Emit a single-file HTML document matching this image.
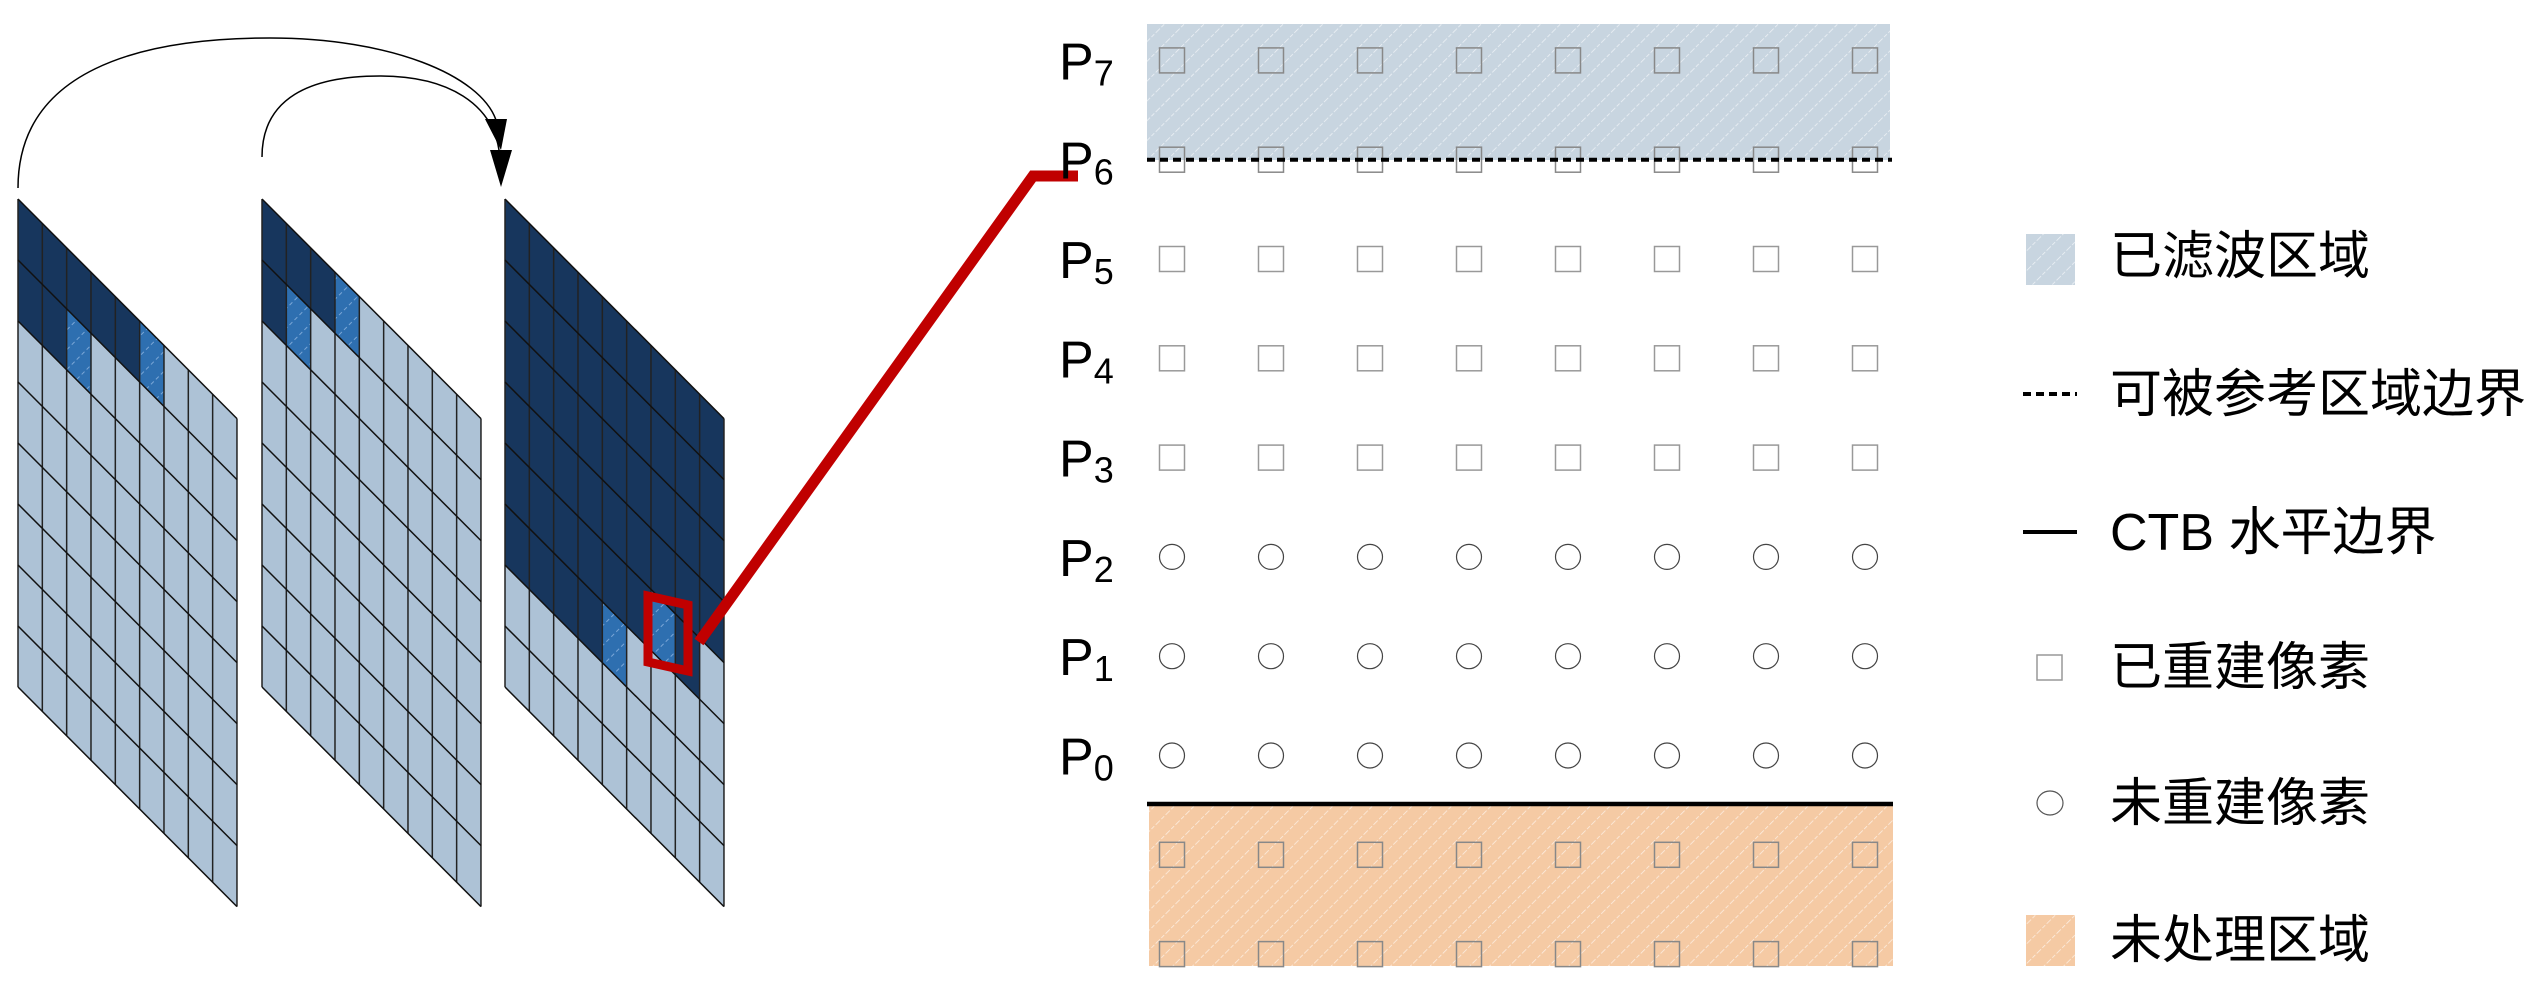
<!DOCTYPE html>
<html><head><meta charset="utf-8"><style>
html,body{margin:0;padding:0;background:#fff;}
svg{display:block;}
text{font-family:"Liberation Sans","Noto Sans CJK SC",sans-serif;fill:#000;}
</style></head><body>
<svg id="fig" width="2538" height="983" viewBox="0 0 2538 983" xmlns="http://www.w3.org/2000/svg">
<defs>
<pattern id="hatchB" patternUnits="userSpaceOnUse" width="14" height="14" patternTransform="rotate(45)">
<rect width="14" height="14" fill="#c8d5e0"/><line x1="0" y1="0" x2="0" y2="14" stroke="#fff" stroke-width="1.5" stroke-dasharray="4 2" opacity="0.7"/></pattern>
<pattern id="hatchO" patternUnits="userSpaceOnUse" width="14" height="14" patternTransform="rotate(45)">
<rect width="14" height="14" fill="#f5caa4"/><line x1="0" y1="0" x2="0" y2="14" stroke="#fff" stroke-width="1.5" stroke-dasharray="4 2" opacity="0.7"/></pattern>
<pattern id="hatchM" patternUnits="userSpaceOnUse" width="14" height="14" patternTransform="rotate(45)">
<rect width="14" height="14" fill="#2e6fb0"/><line x1="0" y1="0" x2="0" y2="14" stroke="#7aa6d6" stroke-width="2" stroke-dasharray="4 3"/></pattern>
</defs>
<g id="grids"></g>
<g>
<path d="M18,188 C18,70 140,38 270,38 C390,38 480,75 496,120" fill="none" stroke="#000" stroke-width="1.5"/>
<polygon points="485,119 507,119 501,150" fill="#000"/>
<path d="M262,157 C262,98 310,76 380,76 C450,76 492,105 499,150" fill="none" stroke="#000" stroke-width="1.5"/>
<polygon points="490,150 512,150 501,187" fill="#000"/>
</g>
<g>
<polygon points="648,596 688,605 688,671 648,662" fill="none" stroke="#c00000" stroke-width="9"/>
<polyline points="699,642 1033,176 1078,176" fill="none" stroke="#c00000" stroke-width="11"/>
</g>
<g id="pixgrid">
<rect x="1147" y="24" width="743" height="136" fill="url(#hatchB)"/>
<rect x="1149" y="804" width="744" height="162" fill="url(#hatchO)"/>
</g>
<g id="legend">
<g><rect x="2026" y="234" width="49" height="51" fill="url(#hatchB)"/><text x="2110" y="274" font-size="52">已滤波区域</text></g>
<g><line x1="2023" y1="394" x2="2077" y2="394" stroke="#000" stroke-width="4" stroke-dasharray="8 5"/><text x="2110" y="412" font-size="52">可被参考区域边界</text></g>
<g><line x1="2023" y1="532" x2="2077" y2="532" stroke="#000" stroke-width="4"/><text x="2110" y="550" font-size="52">CTB 水平边界</text></g>
<g><rect x="2037" y="655" width="25" height="25" fill="none" stroke="#999" stroke-width="1.5"/><text x="2110" y="685" font-size="52">已重建像素</text></g>
<g><ellipse cx="2050" cy="803" rx="13" ry="12" fill="none" stroke="#555" stroke-width="1.2"/><text x="2110" y="821" font-size="52">未重建像素</text></g>
<g><rect x="2026" y="915" width="49" height="51" fill="url(#hatchO)"/><text x="2110" y="958" font-size="52">未处理区域</text></g>
</g>
</svg>
<script>
const NS='http://www.w3.org/2000/svg';
// left frames data
const frameNames=['frame-1','frame-2','frame-3'];
const darkRows1=[2,2,1,1,1,0,0,0,0];
const darkRows2=[2,1,1,0,0,0,0,0,0];
const darkRows3=[6,6,6,6,5,5,4,5,4];
const mediumCells1=[[2,1],[5,0]];
const mediumCells2=[[1,1],[3,0]];
const mediumCells3=[[4,5],[6,4]];
// right pixel grid data
const rowLabels=['0','1','2','3','4','5','6','7'];
const rowTypes=['circle','circle','circle','square','square','square','square','square'];
const extraRows=[-1,-2];
const colCount=8;

function mk(tag,attrs,parent){const e=document.createElementNS(NS,tag);for(const k in attrs)e.setAttribute(k,attrs[k]);parent.appendChild(e);return e;}

const frameX=[18,262,505], gTop=199, colW=24.33, dY=24.4, rowH=61, nCols=9, nRows=8;
const darks=[darkRows1,darkRows2,darkRows3], meds=[mediumCells1,mediumCells2,mediumCells3];
const G=document.getElementById('grids');
function pt(x0,c,r){return [x0+c*colW, gTop+c*dY+r*rowH];}
function quad(x0,c,r,h){const a=pt(x0,c,r),b=pt(x0,c+1,r),d=pt(x0,c+1,r+h),e=pt(x0,c,r+h);return [a,b,d,e].map(p=>p.join(',')).join(' ');}
for(let f=0;f<3;f++){
  const g=mk('g',{},G);
  
  
  const x0=frameX[f];
  for(let c=0;c<nCols;c++){
    const cell=mk('polygon',{points:quad(x0,c,0,nRows),fill:'#adc2d6'},g);
    
    
    if(darks[f][c]>0){
      const d=mk('polygon',{points:quad(x0,c,0,darks[f][c]),fill:'#17365d'},g);
      
      
    }
  }
  meds[f].forEach(m=>{
    const d=mk('polygon',{points:quad(x0,m[0],m[1],1),fill:'url(#hatchM)'},g);
    
    
  });
  for(let c=0;c<=nCols;c++){const a=pt(x0,c,0),b=pt(x0,c,nRows);mk('line',{x1:a[0],y1:a[1],x2:b[0],y2:b[1],stroke:'#222','stroke-width':1.5},g);}
  for(let r=0;r<=nRows;r++){const a=pt(x0,0,r),b=pt(x0,nCols,r);mk('line',{x1:a[0],y1:a[1],x2:b[0],y2:b[1],stroke:'#111','stroke-width':1.5},g);}
}
// pixel grid
const P=document.getElementById('pixgrid');
const colX=c=>1172+c*99;
const rowY=r=>755.5-r*99.3;
function marker(type,cx,cy,shaded,parent){
  let e;
  if(type==='circle') e=mk('circle',{cx:cx,cy:cy,r:12.5,fill:'none',stroke:'#444','stroke-width':1.2},parent);
  else e=mk('rect',{x:cx-12.5,y:cy-12.5,width:25,height:25,fill:'none',stroke:shaded?'#888':'#999','stroke-width':1.5},parent);
  
  
}
rowLabels.forEach((lab,r)=>{
  const y=rowY(r);
  const t=mk('text',{x:1059,y:y+19,'font-size':52},P);
  
  
  t.textContent='P';
  const s=mk('tspan',{'font-size':36,dy:6},t);s.textContent=lab;
  for(let c=0;c<colCount;c++) marker(rowTypes[r],colX(c),y,r>=6,P);
});
extraRows.forEach(r=>{for(let c=0;c<colCount;c++) marker('square',colX(c),rowY(r),true,P);});
const dl=mk('line',{x1:1147,y1:rowY(6),x2:1892,y2:rowY(6),stroke:'#000','stroke-width':4,'stroke-dasharray':'8 5'},P);


const sl=mk('line',{x1:1147,y1:804,x2:1893,y2:804,stroke:'#000','stroke-width':4.5},P);


</script>
</body></html>
